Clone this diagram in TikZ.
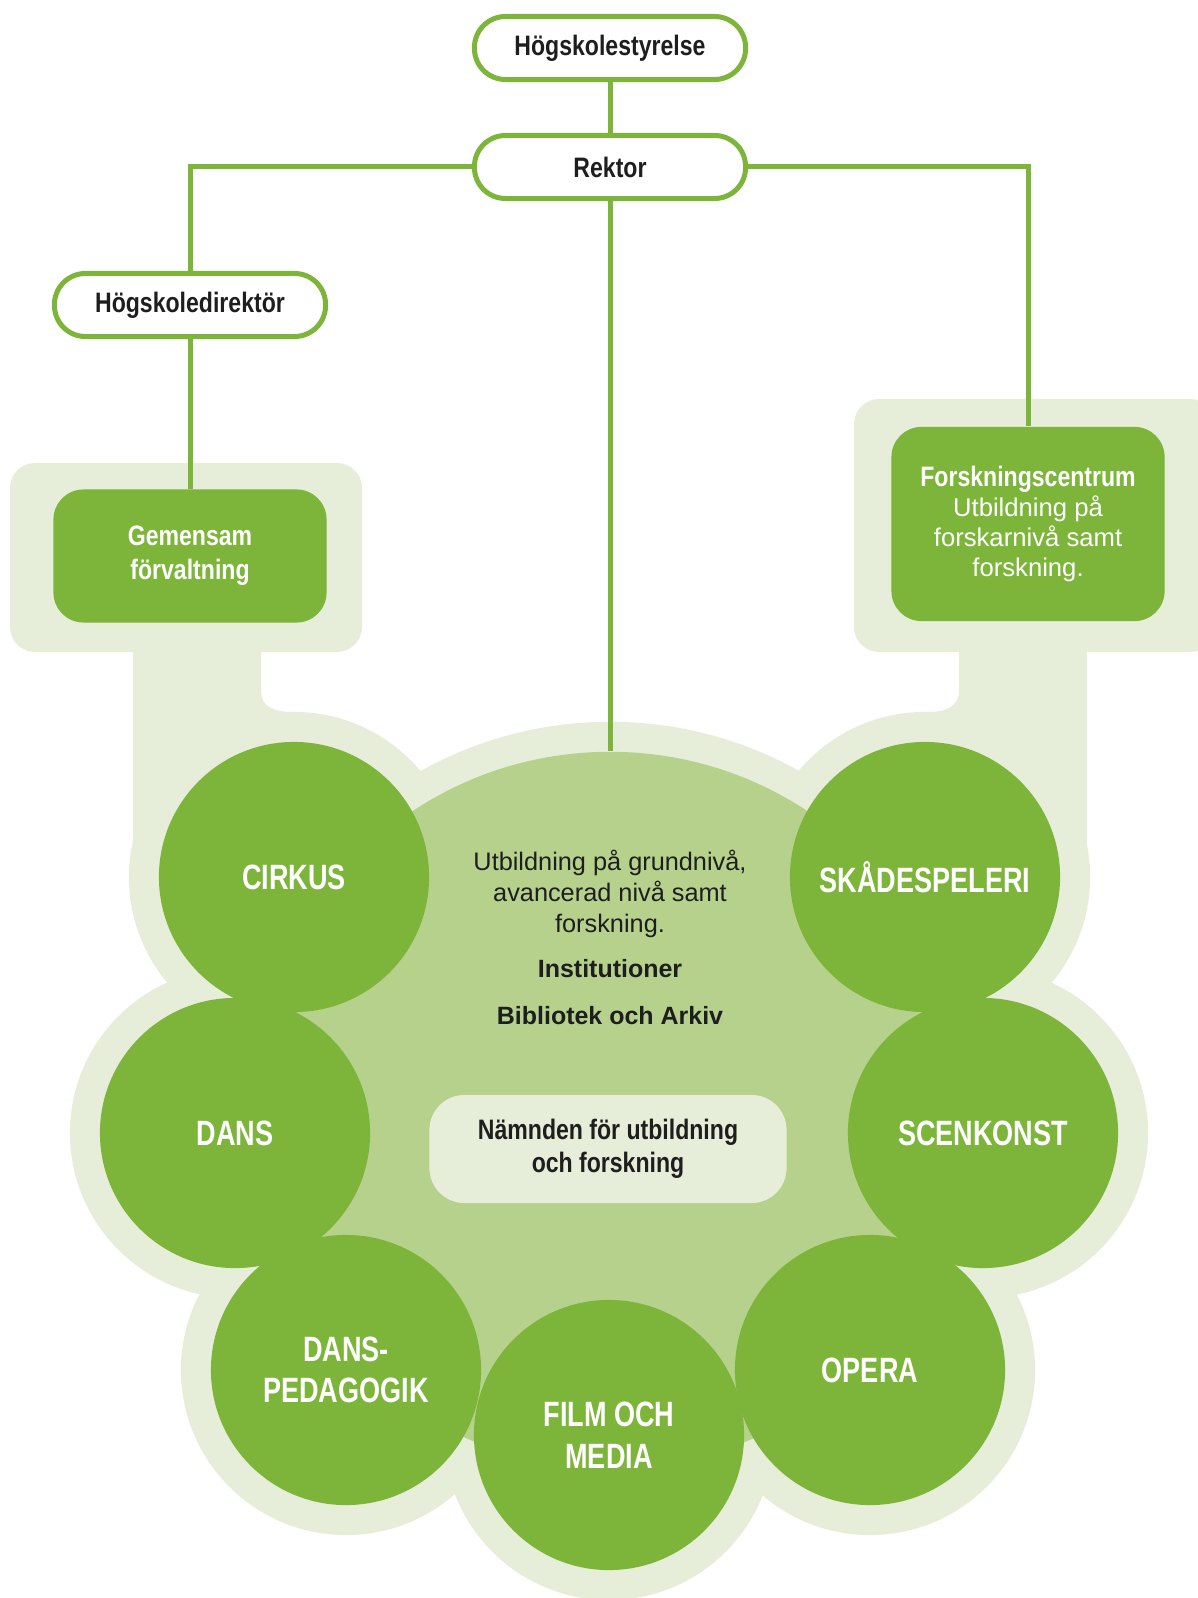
\documentclass[tikz,border=0pt]{standalone}
\usepackage{fontspec}
\setmainfont{Liberation Sans}
\newfontfamily\condfont{Liberation Sans}[FakeStretch=0.82]
\newfontfamily\circfont{Liberation Sans}[FakeStretch=0.77]
\definecolor{kgreen}{HTML}{7CB53A}
\definecolor{kmid}{HTML}{B5D18C}
\definecolor{klight}{HTML}{E6EEDA}
\definecolor{ktext}{HTML}{1E1E1E}
\tikzset{
  pill/.style={draw=kgreen, line width=0.05cm, fill=white, rounded corners=0.31cm,
    minimum width=2.71cm, minimum height=0.63cm, inner sep=0pt, text=ktext,
    font=\condfont\bfseries\fontsize{8}{9.6}\selectfont},
  unit/.style={fill=kgreen, rounded corners=0.3cm, inner sep=0pt, text=white,
    align=center, minimum width=2.73cm},
  dept/.style={circle, fill=kgreen, minimum size=2.70cm, inner sep=0pt, text=white,
    align=center, font=\circfont\bfseries\fontsize{10}{11.8}\selectfont},
  link/.style={draw=kgreen, line width=0.05cm},
  halo/.style={fill=klight},
}
\begin{document}
\begin{tikzpicture}[x=0.01cm, y=-0.01cm]
  \useasboundingbox (0,0) rectangle (1198,1598);
  % light background shape
  \fill[halo, rounded corners=0.25cm] (10,463) rectangle (362,652);
  \fill[halo, rounded corners=0.25cm] (854,399) rectangle (1215,652);
  \fill[halo] (133,640) rectangle (261,877);
  \fill[halo] (959,640) rectangle (1087,877);
  \fill[halo] (261,650) -- (261,690) .. controls (261,708) and (275,712) .. (294,712)
    -- (294,760) -- (261,760) -- cycle;
  \fill[halo] (959,650) -- (959,690) .. controls (959,708) and (945,712) .. (926,712)
    -- (926,760) -- (959,760) -- cycle;
  \foreach \p in {(294,877),(925,877),(235,1133),(983,1133),(346,1370),(870,1370),(609,1435)}
    \fill[halo] \p circle (1.65cm);
  \fill[halo] (610,1110) circle (3.88cm);

  \node[circle, fill=kmid, minimum size=7.16cm, inner sep=0pt] (inst) at (610,1110) {};

  \node[dept] (cirkus) at (294,877) {CIRKUS};
  \node[dept] (skade) at (925,877) {SKÅDESPELERI};
  \node[dept] (dans) at (235,1133) {DANS};
  \node[dept] (scen) at (983,1133) {SCENKONST};
  \node[dept] (danspe) at (346,1370) {DANS-\\PEDAGOGIK};
  \node[dept] (opera) at (870,1370) {OPERA};
  \node[dept] (film) at (609,1435) {FILM OCH\\MEDIA};

  \node[align=center, text=ktext, font=\fontsize{7.2}{8.7}\selectfont] (grund) at (610,894)
    {Utbildning på grundnivå,\\avancerad nivå samt\\forskning.};
  \node[text=ktext, font=\bfseries\fontsize{7.1}{8.5}\selectfont] (instit) at (610,969) {Institutioner};
  \node[text=ktext, font=\bfseries\fontsize{7.1}{8.5}\selectfont] (bibl) at (610,1016) {Bibliotek och Arkiv};
  \node[fill=klight, rounded corners=0.35cm, minimum width=3.57cm, minimum height=1.08cm,
    inner sep=0pt, align=center, text=ktext, font=\condfont\bfseries\fontsize{8}{9.4}\selectfont]
    (namnden) at (608,1149) {Nämnden för utbildning\\och forskning};

  \node[pill] (styrelse) at (610,48) {Högskolestyrelse};
  \node[pill] (rektor) at (610,167) {Rektor};
  \node[pill] (direktor) at (190,305) {Högskoledirektör};
  \node[unit, minimum height=1.33cm, font=\condfont\bfseries\fontsize{8}{9.7}\selectfont]
    (gemensam) at (190,556) {Gemensam\\förvaltning};
  \node[unit, minimum height=1.94cm, font=\fontsize{7.3}{8.6}\selectfont] (forsk) at (1028,524)
    {{\condfont\bfseries\fontsize{8}{8.6}\selectfont Forskningscentrum}\\Utbildning på\\forskarnivå samt\\forskning.};

  \draw[link] (styrelse) -- (rektor);
  \draw[link] (rektor.west) -| (direktor.north);
  \draw[link] (direktor) -- (gemensam);
  \draw[link] (rektor.east) -| (forsk.north);
  \draw[link] (rektor) -- (inst.north);
\end{tikzpicture}
\end{document}
